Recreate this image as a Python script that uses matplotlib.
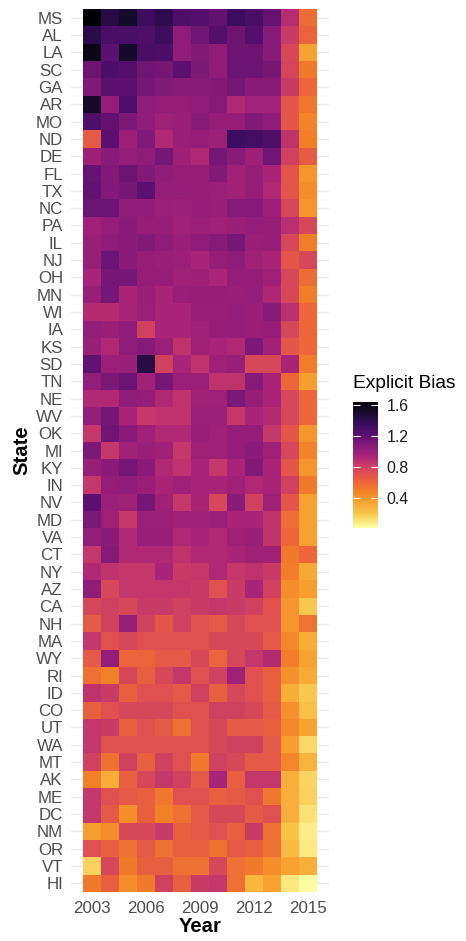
import numpy as np
import matplotlib
matplotlib.use('Agg')
from matplotlib import pyplot as plt
from matplotlib.colors import LinearSegmentedColormap

plt.rcParams['font.family'] = ['Liberation Sans', 'DejaVu Sans']

years = list(range(2003, 2016))
year_ticks = [2003, 2006, 2009, 2012, 2015]
states = ['MS', 'AL', 'LA', 'SC', 'GA', 'AR', 'MO', 'ND', 'DE', 'FL', 'TX', 'NC', 'PA',
          'IL', 'NJ', 'OH', 'MN', 'WI', 'IA', 'KS', 'SD', 'TN', 'NE', 'WV', 'OK', 'MI',
          'KY', 'IN', 'NV', 'MD', 'VA', 'CT', 'NY', 'AZ', 'CA', 'NH', 'MA', 'WY', 'RI',
          'ID', 'CO', 'UT', 'WA', 'MT', 'AK', 'ME', 'DC', 'NM', 'OR', 'VT', 'HI']

# explicit bias per state, 2003..2015
ms = [1.64, 1.45, 1.52, 1.35, 1.41, 1.27, 1.25, 1.20, 1.35, 1.29, 1.19, 0.90, 0.58]
al = [1.42, 1.29, 1.29, 1.27, 1.34, 1.05, 1.15, 1.26, 1.16, 1.25, 1.08, 0.83, 0.62]
la = [1.58, 1.22, 1.52, 1.29, 1.28, 1.05, 1.10, 1.04, 1.16, 1.16, 1.08, 0.77, 0.35]
sc = [1.16, 1.28, 1.25, 1.15, 1.14, 1.21, 1.11, 1.04, 1.17, 1.17, 1.13, 0.78, 0.52]
ga = [1.10, 1.21, 1.22, 1.13, 1.10, 1.08, 1.08, 1.09, 1.14, 1.07, 1.07, 0.83, 0.60]
ar = [1.52, 1.03, 1.27, 1.05, 1.03, 1.02, 1.05, 1.08, 0.92, 0.97, 0.97, 0.69, 0.53]
mo = [1.27, 1.20, 1.11, 1.05, 0.98, 1.01, 1.07, 1.02, 1.02, 1.09, 1.05, 0.69, 0.48]
nd = [0.67, 1.21, 1.00, 1.10, 0.92, 1.01, 1.02, 0.99, 1.35, 1.32, 1.27, 0.87, 0.50]
de = [0.99, 1.07, 1.03, 1.05, 1.13, 0.99, 0.92, 1.13, 1.07, 0.99, 1.15, 0.80, 0.66]
fl = [1.19, 1.10, 1.16, 1.10, 1.05, 1.02, 1.02, 1.09, 0.98, 1.02, 0.95, 0.70, 0.41]
tx = [1.20, 1.10, 1.13, 1.22, 1.03, 1.03, 1.02, 1.00, 0.98, 1.02, 0.92, 0.70, 0.44]
nc = [1.17, 1.17, 1.05, 1.05, 1.00, 0.99, 1.03, 1.01, 1.08, 1.08, 0.99, 0.77, 0.41]
pa = [0.98, 1.03, 1.06, 1.02, 1.02, 0.98, 1.00, 0.98, 1.01, 1.03, 1.02, 0.89, 0.77]
il = [1.01, 1.05, 1.06, 1.09, 1.05, 1.01, 1.05, 1.08, 1.13, 1.01, 1.02, 0.77, 0.51]
nj = [1.01, 1.17, 1.06, 1.02, 1.01, 1.00, 0.95, 1.02, 1.05, 0.98, 0.95, 0.69, 0.77]
oh = [0.95, 1.13, 1.13, 1.02, 1.02, 0.98, 0.99, 0.94, 1.03, 1.03, 0.98, 0.77, 0.58]
mn = [1.01, 1.13, 0.95, 1.01, 0.95, 1.01, 1.02, 1.02, 1.01, 1.03, 0.93, 0.77, 0.51]
wi = [0.91, 0.91, 0.95, 1.00, 0.95, 0.95, 1.01, 1.01, 1.03, 1.01, 1.08, 0.89, 0.60]
ia = [1.03, 1.01, 1.05, 0.80, 0.95, 0.95, 0.98, 1.03, 1.03, 1.01, 1.02, 0.77, 0.60]
ks = [1.01, 0.92, 1.05, 1.08, 1.00, 0.87, 0.98, 0.95, 0.92, 1.11, 0.98, 0.69, 0.60]
sd = [1.20, 1.00, 1.01, 1.45, 0.80, 0.95, 0.87, 0.98, 1.01, 0.77, 0.77, 0.95, 0.51]
tn = [1.03, 1.11, 1.17, 0.98, 1.13, 1.00, 1.00, 0.87, 0.87, 1.08, 0.95, 0.60, 0.37]
ne = [0.92, 0.92, 1.05, 1.03, 0.92, 0.87, 0.98, 0.98, 1.11, 1.02, 0.95, 0.77, 0.60]
wv = [1.03, 1.13, 0.95, 0.85, 0.87, 0.87, 1.00, 1.00, 0.85, 0.95, 0.91, 0.77, 0.60]
ok = [0.85, 1.15, 1.06, 0.98, 0.92, 0.92, 1.01, 0.98, 1.03, 1.03, 0.85, 0.69, 0.41]
mi = [1.11, 0.85, 0.98, 1.01, 0.98, 0.85, 0.98, 0.98, 1.03, 1.06, 0.98, 0.77, 0.48]
ky = [1.01, 1.06, 1.14, 1.06, 0.92, 0.87, 0.95, 0.85, 0.95, 1.09, 0.95, 0.69, 0.41]
in_ = [0.85, 1.02, 1.05, 1.01, 0.95, 0.98, 0.95, 0.95, 0.98, 0.92, 0.95, 0.80, 0.52]
nv = [1.22, 1.00, 0.98, 1.13, 0.98, 0.85, 0.95, 0.77, 1.06, 0.80, 0.98, 0.69, 0.36]
md = [1.11, 0.98, 0.85, 1.00, 1.00, 0.98, 0.98, 1.00, 0.95, 0.95, 0.87, 0.57, 0.36]
va = [1.03, 1.06, 0.92, 1.01, 1.01, 0.92, 0.95, 0.92, 0.98, 1.01, 0.87, 0.60, 0.36]
ct = [0.85, 1.08, 0.92, 0.92, 0.92, 0.87, 0.92, 0.92, 0.95, 0.98, 0.98, 0.52, 0.60]
ny = [0.92, 0.87, 0.85, 0.85, 0.95, 0.83, 0.85, 0.92, 0.85, 0.87, 0.83, 0.51, 0.33]
az = [1.05, 0.77, 0.85, 0.85, 0.85, 0.85, 0.83, 0.72, 0.83, 0.95, 0.80, 0.44, 0.37]
ca = [0.77, 0.80, 0.77, 0.83, 0.83, 0.80, 0.83, 0.85, 0.83, 0.80, 0.72, 0.41, 0.20]
nh = [0.67, 0.80, 1.01, 0.80, 0.69, 0.80, 0.72, 0.67, 0.77, 0.72, 0.72, 0.41, 0.55]
ma = [0.85, 0.72, 0.77, 0.72, 0.72, 0.72, 0.72, 0.77, 0.77, 0.77, 0.67, 0.47, 0.31]
wy = [0.67, 1.03, 0.62, 0.62, 0.67, 0.67, 0.77, 0.62, 0.77, 0.85, 0.91, 0.51, 0.35]
ri = [0.56, 0.49, 0.77, 0.64, 0.77, 0.85, 0.72, 0.80, 0.98, 0.72, 0.64, 0.42, 0.32]
id_ = [0.87, 0.83, 0.64, 0.72, 0.72, 0.67, 0.80, 0.64, 0.77, 0.72, 0.64, 0.31, 0.20]
co = [0.64, 0.72, 0.77, 0.77, 0.77, 0.72, 0.72, 0.80, 0.80, 0.77, 0.67, 0.42, 0.23]
ut = [0.85, 0.83, 0.64, 0.72, 0.67, 0.56, 0.72, 0.77, 0.67, 0.67, 0.64, 0.47, 0.35]
wa = [0.85, 0.72, 0.72, 0.72, 0.72, 0.72, 0.72, 0.77, 0.80, 0.80, 0.67, 0.37, 0.15]
mt = [0.80, 0.56, 0.80, 0.64, 0.80, 0.72, 0.52, 0.80, 0.77, 0.67, 0.67, 0.47, 0.28]
ak = [0.49, 0.31, 0.64, 0.77, 0.85, 0.80, 0.67, 0.95, 0.64, 0.85, 0.85, 0.30, 0.16]
me = [0.85, 0.72, 0.67, 0.64, 0.53, 0.72, 0.72, 0.64, 0.67, 0.72, 0.53, 0.30, 0.17]
dc = [0.85, 0.67, 0.44, 0.64, 0.49, 0.56, 0.67, 0.77, 0.77, 0.67, 0.72, 0.30, 0.12]
nm = [0.38, 0.44, 0.77, 0.77, 0.83, 0.64, 0.67, 0.72, 0.64, 0.83, 0.56, 0.22, 0.08]
or_ = [0.72, 0.64, 0.56, 0.67, 0.56, 0.64, 0.64, 0.56, 0.67, 0.64, 0.56, 0.26, 0.09]
vt = [0.17, 0.77, 0.52, 0.64, 0.64, 0.56, 0.56, 0.77, 0.56, 0.52, 0.44, 0.35, 0.30]
hi = [0.52, 0.64, 0.44, 0.52, 0.80, 0.64, 0.83, 0.85, 0.56, 0.27, 0.35, 0.10, 0.03]

bias = np.array([ms, al, la, sc, ga, ar, mo, nd, de, fl, tx, nc, pa, il, nj, oh, mn, wi,
                 ia, ks, sd, tn, ne, wv, ok, mi, ky, in_, nv, md, va, ct, ny, az, ca, nh,
                 ma, wy, ri, id_, co, ut, wa, mt, ak, me, dc, nm, or_, vt, hi])

vmin, vmax = 0.02, 1.64
# colour stops of the legend bar (value, colour), low -> high
stop_values = [0.02, 0.20, 0.36, 0.50, 0.60, 0.72, 0.84, 0.95, 1.08, 1.22, 1.36, 1.50, 1.64]
stop_colors = ['#fcffa4', '#f9c64c', '#f8a030', '#f27e28', '#ec6638', '#e05050',
               '#c83a68', '#a82278', '#861a78', '#5c1070', '#3a0c5e', '#1a0c34', '#000004']
cmap = LinearSegmentedColormap.from_list(
    'bias', [((v - vmin) / (vmax - vmin), c) for v, c in zip(stop_values, stop_colors)])

fig = plt.figure(figsize=(4.66, 9.41), dpi=100)
ax = fig.add_axes([0.153, 0.0503, 0.5524, 0.9419])

x_edges = np.arange(years[0] - 0.5, years[-1] + 1.0, 1.0)
y_edges = np.arange(0.5, len(states) + 1.0, 1.0)
mesh = ax.pcolormesh(x_edges, y_edges, bias, cmap=cmap, vmin=vmin, vmax=vmax, zorder=2)

span = x_edges[-1] - x_edges[0]
ax.set_xlim(x_edges[0] - 0.05 * span, x_edges[-1] + 0.05 * span)
ax.set_ylim(len(states) + 0.6, 0.4)
ax.set_xticks(year_ticks)
ax.set_xticklabels([str(y) for y in year_ticks])
ax.set_yticks(range(1, len(states) + 1))
ax.set_yticklabels(states)
ax.tick_params(length=0, labelsize=12.2, labelcolor='#4d4d4d')
ax.tick_params(axis='y', pad=6)
ax.tick_params(axis='x', pad=5)
ax.grid(axis='y', color='#ebebeb', linewidth=1.0, zorder=0)
ax.set_axisbelow(True)
for s in ax.spines.values():
    s.set_visible(False)
ax.set_xlabel('Year', fontsize=14.6, fontweight='bold', labelpad=1)
ax.set_ylabel('State', fontsize=14.6, fontweight='bold', labelpad=3)

# colourbar legend
cax = fig.add_axes([353 / 466, 1 - 527.7 / 941, 25 / 466, 125.4 / 941])
cb = fig.colorbar(mesh, cax=cax, ticks=[0.4, 0.8, 1.2, 1.6])
cb.outline.set_visible(False)
cb.ax.set_yticklabels(['0.4', '0.8', '1.2', '1.6'])
cb.ax.tick_params(direction='in', length=5, width=0.8, color='white', left=True,
                  right=True, labelsize=11.4, labelcolor='#1a1a1a', pad=6)
fig.text(353 / 466, 1 - 383 / 941, 'Explicit Bias', fontsize=13.8, ha='left', va='center')

plt.savefig('out.png', dpi=100)
